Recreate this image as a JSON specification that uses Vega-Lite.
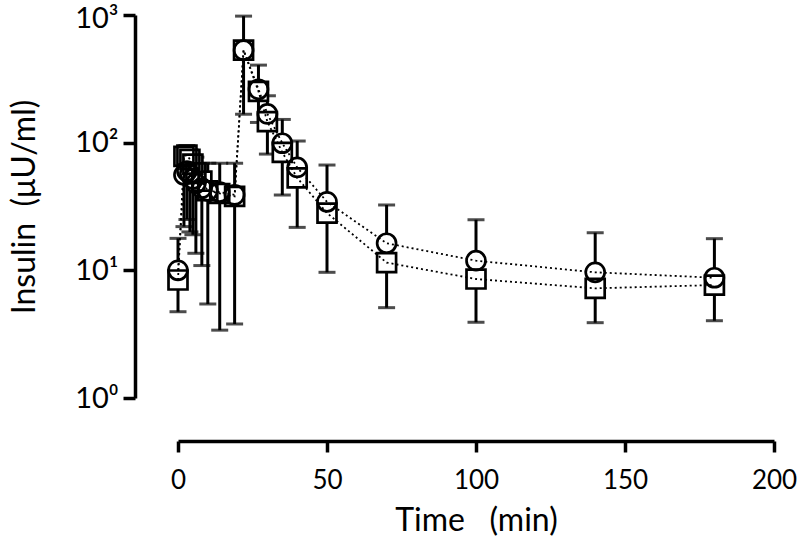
{
  "$schema": "https://vega.github.io/schema/vega-lite/v6.json",
  "autosize": "none",
  "width": 596,
  "height": 383,
  "padding": {"left": 178, "top": 15, "right": 26, "bottom": 156},
  "background": "white",
  "config": {
    "view": {"stroke": null},
    "font": "Lato",
    "axis": {"grid": false, "domainColor": "black", "tickColor": "black", "labelColor": "black", "titleColor": "black", "domainWidth": 3.5, "tickWidth": 3.5, "titleFontWeight": "normal", "labelFont": "Lato", "titleFont": "Lato"}
  },
  "data": {
    "values": [
      {"t": 0, "g": "A", "v": 10.0, "e": 17.8},
      {"t": 2, "g": "A", "v": 56, "e": 90},
      {"t": 3, "g": "A", "v": 60, "e": 95},
      {"t": 4, "g": "A", "v": 57, "e": 88},
      {"t": 5, "g": "A", "v": 52, "e": 80},
      {"t": 6, "g": "A", "v": 48, "e": 77},
      {"t": 8, "g": "A", "v": 44, "e": 69},
      {"t": 10, "g": "A", "v": 42, "e": 69},
      {"t": 14, "g": "A", "v": 41, "e": 69},
      {"t": 19, "g": "A", "v": 39, "e": 69},
      {"t": 22, "g": "A", "v": 530, "e": 980},
      {"t": 27, "g": "A", "v": 262, "e": 405},
      {"t": 30, "g": "A", "v": 168, "e": 233},
      {"t": 35, "g": "A", "v": 99, "e": 152},
      {"t": 40, "g": "A", "v": 64, "e": 103},
      {"t": 50, "g": "A", "v": 34.4, "e": 66.8},
      {"t": 70, "g": "A", "v": 16.3, "e": 32.5},
      {"t": 100, "g": "A", "v": 11.9, "e": 24.9},
      {"t": 140, "g": "A", "v": 9.65, "e": 19.7},
      {"t": 180, "g": "A", "v": 8.75, "e": 17.7},
      {"t": 0, "g": "B", "v": 8.4, "e": 4.74},
      {"t": 2, "g": "B", "v": 78, "e": 22},
      {"t": 3, "g": "B", "v": 80, "e": 25},
      {"t": 4, "g": "B", "v": 74, "e": 20},
      {"t": 5, "g": "B", "v": 68, "e": 19},
      {"t": 6, "g": "B", "v": 58, "e": 13.6},
      {"t": 8, "g": "B", "v": 50, "e": 10.9},
      {"t": 10, "g": "B", "v": 42, "e": 5.45},
      {"t": 14, "g": "B", "v": 40, "e": 3.4},
      {"t": 19, "g": "B", "v": 38, "e": 3.8},
      {"t": 22, "g": "B", "v": 530, "e": 167},
      {"t": 27, "g": "B", "v": 252, "e": 144},
      {"t": 30, "g": "B", "v": 146, "e": 81.4},
      {"t": 35, "g": "B", "v": 84, "e": 38.9},
      {"t": 40, "g": "B", "v": 53, "e": 21.7},
      {"t": 50, "g": "B", "v": 28.1, "e": 9.65},
      {"t": 70, "g": "B", "v": 11.5, "e": 5.1},
      {"t": 100, "g": "B", "v": 8.55, "e": 3.92},
      {"t": 140, "g": "B", "v": 7.23, "e": 3.89},
      {"t": 180, "g": "B", "v": 7.67, "e": 4.03}
    ]
  },
  "encoding": {
    "x": {"field": "t", "type": "quantitative", "scale": {"domain": [0, 200], "nice": false, "zero": false},
      "axis": {"values": [0, 50, 100, 150, 200], "offset": 43, "tickSize": 11, "labelFontSize": 26, "labelPadding": 15, "title": "Time\u00a0\u00a0\u00a0(min)", "titleFontSize": 32, "titlePadding": 12, "labelFlush": false}},
    "y": {"field": "v", "type": "quantitative", "scale": {"type": "log", "domain": [1, 1000], "nice": false},
      "axis": {"values": [1, 10, 100, 1000], "offset": 43, "tickSize": 12, "labelFontSize": 29, "labelPadding": 5, "labelOffset": {"condition": {"test": "datum.value == 1000", "value": 3}, "value": 0}, "labelExpr": "datum.value == 1 ? '10⁰' : datum.value == 10 ? '10¹' : datum.value == 100 ? '10²' : '10³'", "title": "Insulin\u00a0\u00a0(μU/ml)", "titleFontSize": 32, "titlePadding": 33, "labelFlush": false}}
  },
  "layer": [
    {"mark": {"type": "rule", "color": "black", "strokeWidth": 3}, "encoding": {"y2": {"field": "e"}}},
    {"mark": {"type": "tick", "orient": "horizontal", "color": "black", "size": 17, "thickness": 3}, "encoding": {"y": {"field": "e", "type": "quantitative"}}},
    {"mark": {"type": "point", "filled": true, "fill": "white", "opacity": 1, "strokeWidth": 0, "size": 360},
      "encoding": {"shape": {"field": "g", "type": "nominal", "scale": {"domain": ["A", "B"], "range": ["circle", "square"]}, "legend": null}}},
    {"mark": {"type": "line", "color": "black", "strokeWidth": 1.8, "strokeDash": [2, 3]}, "encoding": {"detail": {"field": "g"}, "order": {"field": "t"}}},
    {"mark": {"type": "point", "filled": false, "color": "black", "opacity": 1, "strokeWidth": 2.7, "size": 360},
      "encoding": {"shape": {"field": "g", "type": "nominal", "scale": {"domain": ["A", "B"], "range": ["circle", "square"]}, "legend": null}}}
  ]
}
